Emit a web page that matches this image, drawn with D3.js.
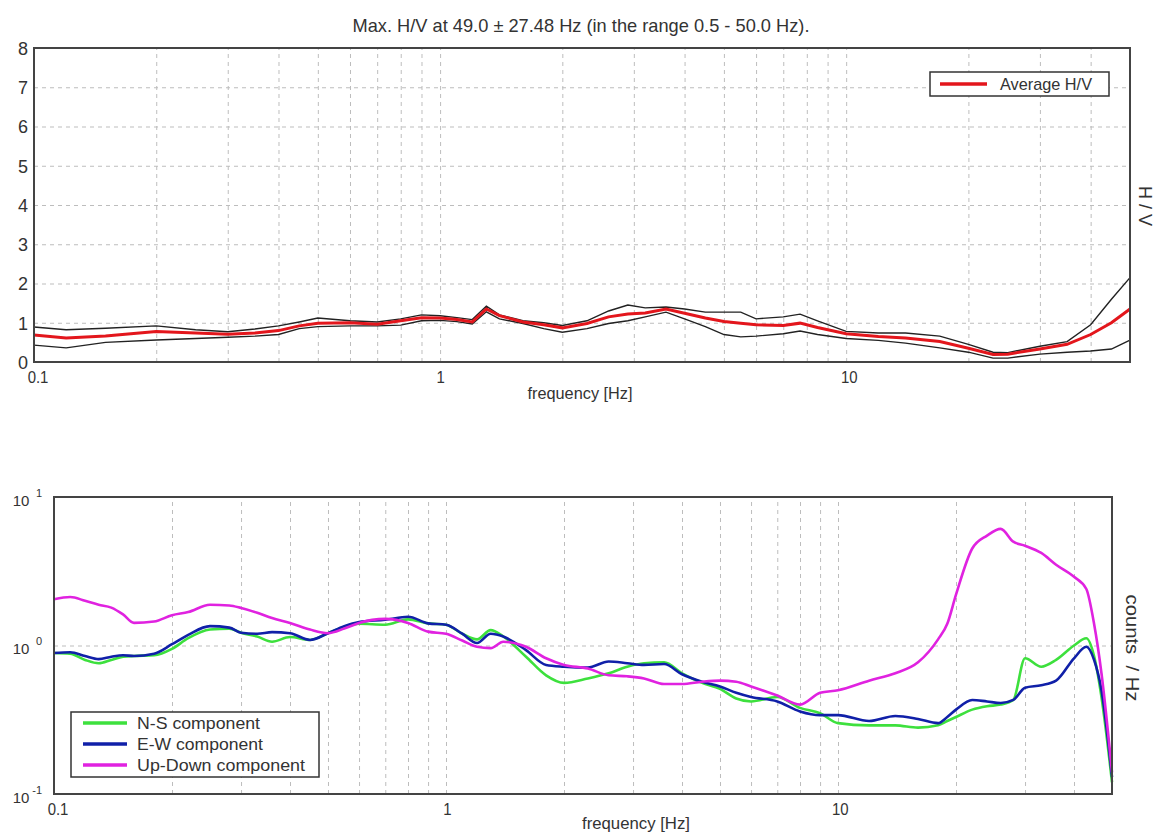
<!DOCTYPE html>
<html>
<head>
<meta charset="utf-8">
<script src="https://cdn.jsdelivr.net/npm/d3@7"></script>
<style>
  html, body { margin: 0; padding: 0; background: #fff; }
  svg { display: block; }
  text { font-family: "Liberation Sans", Arial, sans-serif; fill: #333; }
</style>
</head>
<body>
<svg id="chart" width="1160" height="834"></svg>
<script>
// ---------------- DATA ----------------
const titleText = "Max. H/V at 49.0 \u00b1 27.48 Hz (in the range 0.5 - 50.0 Hz).";
const xTickLabels = [0.1, 1, 10];
const gridFreqs = [0.2,0.3,0.4,0.5,0.6,0.7,0.8,0.9,1,2,3,4,5,6,7,8,9,10,20,30,40];
const hvTicks = [0,1,2,3,4,5,6,7,8];
const hvGrid = [1,2,3,4,5,6,7];
const specTicks = [0.1, 1, 10];
const specExp = ["-1", "0", "1"];

// H/V curves (top panel)
const hvFreq = [0.1,0.12,0.15,0.2,0.25,0.3,0.35,0.4,0.45,0.5,0.6,0.7,0.8,0.9,1.0,1.1,1.2,1.3,1.4,1.6,1.8,2.0,2.3,2.6,2.9,3.2,3.6,4.0,4.5,5.0,5.5,6.0,7.0,7.7,8.5,10,12,14,17,20,23,25,30,35,40,45,50];
const hvAvg  = [0.69,0.61,0.66,0.78,0.74,0.71,0.74,0.80,0.92,0.99,1.00,0.96,1.05,1.13,1.12,1.08,1.02,1.35,1.18,1.02,0.95,0.87,0.98,1.15,1.22,1.25,1.35,1.24,1.12,1.03,0.99,0.95,0.93,0.99,0.88,0.72,0.65,0.61,0.52,0.35,0.19,0.20,0.33,0.45,0.70,1.00,1.35];
const hvUpper= [0.89,0.82,0.86,0.92,0.82,0.77,0.84,0.92,1.02,1.12,1.05,1.02,1.10,1.20,1.18,1.13,1.08,1.42,1.20,1.05,1.00,0.93,1.05,1.30,1.45,1.38,1.40,1.35,1.27,1.27,1.27,1.10,1.15,1.22,1.05,0.78,0.74,0.74,0.66,0.45,0.25,0.24,0.40,0.52,0.95,1.60,2.15];
const hvLower= [0.43,0.36,0.50,0.56,0.60,0.63,0.66,0.70,0.85,0.90,0.92,0.92,0.94,1.05,1.06,1.03,0.97,1.28,1.10,0.98,0.85,0.76,0.85,0.98,1.05,1.15,1.27,1.10,0.90,0.70,0.64,0.66,0.72,0.79,0.70,0.60,0.55,0.48,0.36,0.25,0.10,0.10,0.20,0.25,0.28,0.33,0.56];

// Spectra (bottom panel)
const spFreq = [0.1,0.11,0.12,0.13,0.14,0.15,0.16,0.18,0.2,0.22,0.25,0.28,0.3,0.33,0.36,0.4,0.45,0.5,0.55,0.6,0.7,0.8,0.9,1.0,1.1,1.2,1.3,1.4,1.6,1.8,2.0,2.3,2.6,2.9,3.2,3.6,4.0,4.5,5.0,5.5,6.0,7.0,8.0,9.0,10,12,14,16,18,19,20,22,24,26,28,30,33,36,40,43,45,47,50];
const spNS = [0.89,0.88,0.80,0.76,0.80,0.84,0.85,0.86,0.95,1.12,1.28,1.30,1.22,1.15,1.06,1.14,1.09,1.21,1.33,1.40,1.38,1.50,1.41,1.38,1.20,1.10,1.27,1.15,0.84,0.63,0.56,0.60,0.65,0.72,0.76,0.77,0.65,0.56,0.51,0.44,0.42,0.45,0.38,0.35,0.30,0.29,0.29,0.28,0.29,0.31,0.33,0.37,0.39,0.40,0.43,0.82,0.72,0.80,1.00,1.12,0.85,0.45,0.12];
const spEW = [0.89,0.90,0.85,0.81,0.84,0.86,0.85,0.88,1.02,1.18,1.35,1.32,1.22,1.20,1.23,1.21,1.09,1.21,1.35,1.44,1.49,1.56,1.41,1.38,1.20,1.04,1.20,1.15,0.93,0.74,0.72,0.71,0.78,0.76,0.74,0.75,0.64,0.57,0.53,0.48,0.45,0.42,0.36,0.34,0.34,0.31,0.335,0.32,0.30,0.33,0.37,0.43,0.42,0.41,0.43,0.52,0.54,0.58,0.82,0.98,0.80,0.50,0.13];
const spUD = [2.05,2.12,2.00,1.88,1.80,1.62,1.42,1.45,1.60,1.68,1.88,1.86,1.79,1.66,1.53,1.42,1.28,1.21,1.30,1.42,1.51,1.42,1.24,1.20,1.08,0.98,0.96,1.06,0.98,0.82,0.74,0.70,0.63,0.62,0.60,0.55,0.55,0.57,0.58,0.57,0.53,0.46,0.40,0.48,0.50,0.58,0.65,0.77,1.10,1.40,2.20,4.50,5.50,6.10,5.00,4.70,4.20,3.50,2.90,2.40,1.40,0.65,0.14];

const legendTop = ["Average H/V"];
const legendBottom = ["N-S component", "E-W component", "Up-Down component"];

// ---------------- DRAW ----------------
const svg = d3.select("#chart");
const FONT = '"Liberation Sans", Arial, sans-serif';

function txt(parent, x, y, s, o = {}) {
  const t = parent.append("text")
    .attr("x", x).attr("y", y)
    .attr("font-size", o.size || 17)
    .attr("text-anchor", o.anchor || "start")
    .text(s);
  if (o.len) t.attr("textLength", o.len).attr("lengthAdjust", "spacingAndGlyphs");
  if (o.transform) t.attr("transform", o.transform);
  if (o.baseline) t.attr("dominant-baseline", o.baseline);
  return t;
}

// ===== TOP PANEL =====
const T = {l: 34, r: 1130, t: 48, b: 362};
const xT = d3.scaleLog().domain([0.1, 50]).range([T.l, T.r]);
const yT = d3.scaleLinear().domain([0, 8]).range([T.b, T.t]);

// title
txt(svg, 581, 32, titleText, {size: 19, anchor: "middle", len: 457});

const gT = svg.append("g");
// grid
gT.append("g").attr("transform", `translate(0,${T.b})`)
  .call(d3.axisBottom(xT).tickValues(gridFreqs).tickSize(-(T.b - T.t)).tickFormat(""))
  .call(g => g.select(".domain").remove())
  .call(g => g.selectAll("line").attr("stroke", "#bdbdbd").attr("stroke-dasharray", "4,4"));
gT.append("g").attr("transform", `translate(${T.l},0)`)
  .call(d3.axisLeft(yT).tickValues(hvGrid).tickSize(-(T.r - T.l)).tickFormat(""))
  .call(g => g.select(".domain").remove())
  .call(g => g.selectAll("line").attr("stroke", "#bdbdbd").attr("stroke-dasharray", "4,4"));

// axes labels
gT.append("g").attr("transform", `translate(0,${T.b})`)
  .call(d3.axisBottom(xT).tickValues(xTickLabels).tickSize(0).tickPadding(0).tickFormat(d3.format("")))
  .call(g => g.select(".domain").remove())
  .call(g => g.selectAll("text").attr("font-size", 17).attr("font-family", FONT).attr("fill", "#333")
      .attr("y", 0).attr("dy", 21).attr("transform", "scale(0.88,1)")
      .attr("x", d => d === 0.1 ? 4 : (d === 10 ? 3 : 0)));
gT.append("g").attr("transform", `translate(${T.l},0)`)
  .call(d3.axisLeft(yT).tickValues(hvTicks).tickSize(0).tickPadding(0).tickFormat(d3.format("d")))
  .call(g => g.select(".domain").remove())
  .call(g => g.selectAll("text").attr("font-size", 18).attr("font-family", FONT).attr("fill", "#333")
      .attr("text-anchor", "middle").attr("x", -11).attr("dy", "0.35em"));

txt(svg, 580, 399, "frequency [Hz]", {size: 16, anchor: "middle", len: 105});
txt(svg, 0, 0, "H / V", {size: 18, anchor: "middle", transform: "translate(1139,206) rotate(90)"});

// curves
const lineT = d3.line().x(d => xT(d[0])).y(d => yT(d[1]));
const zipT = arr => hvFreq.map((f, i) => [f, arr[i]]);
gT.append("path").datum(zipT(hvUpper)).attr("d", lineT).attr("fill", "none").attr("stroke", "#222").attr("stroke-width", 1.4);
gT.append("path").datum(zipT(hvLower)).attr("d", lineT).attr("fill", "none").attr("stroke", "#222").attr("stroke-width", 1.4);
gT.append("path").datum(zipT(hvAvg)).attr("d", lineT).attr("fill", "none").attr("stroke", "#e3161c").attr("stroke-width", 3);

// frame
gT.append("rect").attr("x", T.l).attr("y", T.t).attr("width", T.r - T.l).attr("height", T.b - T.t)
  .attr("fill", "none").attr("stroke", "#444").attr("stroke-width", 2);

// legend top
const lgT = gT.append("g");
lgT.append("rect").attr("x", 930).attr("y", 72).attr("width", 179).attr("height", 24)
  .attr("fill", "#fff").attr("stroke", "#333").attr("stroke-width", 1.5);
lgT.append("line").attr("x1", 940).attr("x2", 987).attr("y1", 84).attr("y2", 84)
  .attr("stroke", "#e3161c").attr("stroke-width", 3.5);
txt(lgT, 1000, 90, legendTop[0], {size: 17, len: 92});

// ===== BOTTOM PANEL =====
const B = {l: 54, r: 1112, t: 497, b: 794};
const xB = d3.scaleLog().domain([0.1, 50]).range([B.l, B.r]);
const yB = d3.scaleLog().domain([0.1, 10]).range([B.b, B.t]);
const gB = svg.append("g");

gB.append("g").attr("transform", `translate(0,${B.b})`)
  .call(d3.axisBottom(xB).tickValues(gridFreqs).tickSize(-(B.b - B.t)).tickFormat(""))
  .call(g => g.select(".domain").remove())
  .call(g => g.selectAll("line").attr("stroke", "#bdbdbd").attr("stroke-dasharray", "4,4"));
gB.append("g").attr("transform", `translate(${B.l},0)`)
  .call(d3.axisLeft(yB).tickValues([1]).tickSize(-(B.r - B.l)).tickFormat(""))
  .call(g => g.select(".domain").remove())
  .call(g => g.selectAll("line").attr("stroke", "#bdbdbd").attr("stroke-dasharray", "4,4"));

gB.append("g").attr("transform", `translate(0,${B.b})`)
  .call(d3.axisBottom(xB).tickValues(xTickLabels).tickSize(0).tickPadding(0).tickFormat(d3.format("")))
  .call(g => g.select(".domain").remove())
  .call(g => g.selectAll("text").attr("font-size", 17).attr("font-family", FONT).attr("fill", "#333")
      .attr("y", 0).attr("dy", 21).attr("transform", "scale(0.88,1)")
      .attr("x", d => d === 0.1 ? 4 : (d === 10 ? 2 : 1)));

// y labels with exponents
const yAx = gB.append("g").attr("transform", `translate(${B.l},0)`)
  .call(d3.axisLeft(yB).tickValues(specTicks).tickSize(0).tickPadding(0).tickFormat(() => ""))
  .call(g => g.select(".domain").remove());
yAx.selectAll(".tick").each(function(d, i) {
  const g = d3.select(this);
  g.append("text").attr("x", -33).attr("y", 8).attr("font-size", 15).attr("font-family", FONT)
    .attr("fill", "#333").attr("text-anchor", "middle").text("10");
  g.append("text").attr("x", -12).attr("y", -1).attr("font-size", 11).attr("font-family", FONT)
    .attr("fill", "#333").attr("text-anchor", "end").text(specExp[i]);
});

txt(svg, 636, 829, "frequency [Hz]", {size: 16, anchor: "middle", len: 108});
txt(svg, 0, 0, "counts  / Hz", {size: 18, anchor: "middle", len: 107,
  transform: "translate(1126,648) rotate(90)"}).style("white-space", "pre");

const lineB = d3.line().x(d => xB(d[0])).y(d => yB(d[1])).curve(d3.curveMonotoneX);
const zipB = arr => spFreq.map((f, i) => [f, arr[i]]);
const specColors = ["#3de03d", "#1020a8", "#e022e0"];
[spNS, spEW, spUD].forEach((s, i) => {
  gB.append("path").datum(zipB(s)).attr("d", lineB).attr("fill", "none")
    .attr("stroke", specColors[i]).attr("stroke-width", 2.6).attr("stroke-linejoin", "round");
});

gB.append("rect").attr("x", B.l).attr("y", B.t).attr("width", B.r - B.l).attr("height", B.b - B.t)
  .attr("fill", "none").attr("stroke", "#444").attr("stroke-width", 2);

// legend bottom
const lgB = gB.append("g");
lgB.append("rect").attr("x", 71).attr("y", 712).attr("width", 248).attr("height", 65)
  .attr("fill", "#fff").attr("stroke", "#333").attr("stroke-width", 1.5);
const legLens = [123, 126, 168];
legendBottom.forEach((name, i) => {
  const y = 723 + i * 21;
  lgB.append("line").attr("x1", 83).attr("x2", 127).attr("y1", y).attr("y2", y)
    .attr("stroke", specColors[i]).attr("stroke-width", 3.5);
  txt(lgB, 137, y + 6, name, {size: 17, len: legLens[i]});
});
</script>
</body>
</html>
